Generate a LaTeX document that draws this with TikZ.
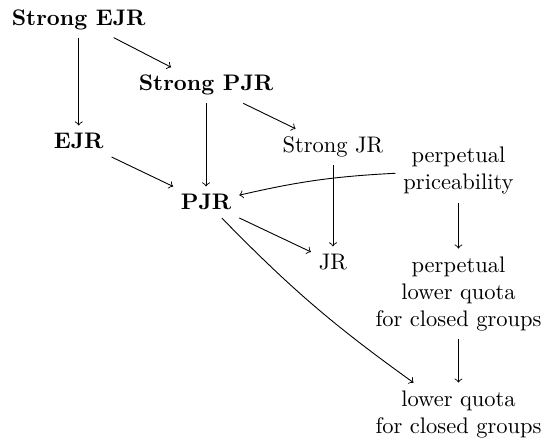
\documentclass[tikz,border=0pt]{standalone}
\usepackage{tikz}
\newcommand*{\strongprop}[1]{\textbf{#1}}

\begin{document}
\begin{tikzpicture}
      \useasboundingbox (0, 0) rectangle (246.7pt, -196.4pt);

      {\tikzstyle{every node}=[align=center]
        \node (sejr) at (35pt, -8.7pt) {\strongprop{Strong EJR}};
        \node (spjr) at (91.6pt, -37.9pt) {\strongprop{Strong PJR}};
        \node (ejr) at (35pt, -62.8pt) {\strongprop{EJR}};
        \node (pjr) at (91.6pt, -89.9pt) {\strongprop{PJR}};
        \node (sjr) at (148pt, -65.3pt) {Strong JR};
        \node (jr) at (148pt, -116.6pt) {JR};
        \node (pp) at (203.8pt, -76pt) {perpetual\\priceability};
        \node (plq) at (203.8pt, -130.5pt) {perpetual\\lower quota\\for closed groups};
        \node (lq) at (203.8pt, -184.1pt) {lower quota\\for closed groups};
      }

      \foreach \from/\to in {sejr/ejr, sejr/spjr, spjr/pjr, spjr/sjr,
                             ejr/pjr, sjr/jr, pjr/jr, pp/plq, plq/lq}
      {
        \draw [->] (\from) -- (\to);
      }

      \draw [->] (pp) to [bend right=5] (pjr);
      \draw [->] (pjr) to [bend right=5] (lq);
    \end{tikzpicture}
\end{document}
